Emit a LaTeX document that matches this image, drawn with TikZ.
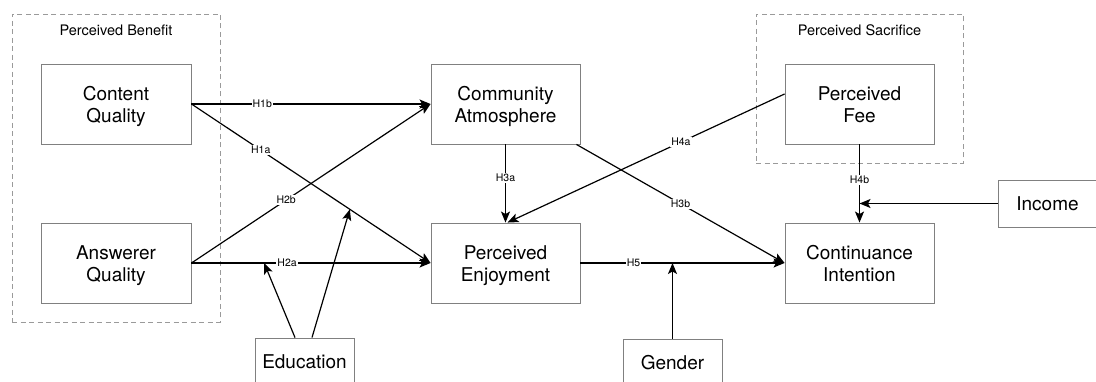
\documentclass[tikz,border=0pt]{standalone}
\usepackage{fontspec}
\setmainfont{TeX Gyre Heros}
\usetikzlibrary{arrows.meta,calc}
\definecolor{boxline}{HTML}{808080}
\definecolor{groupline}{HTML}{9A9A9A}
% fixed line metrics so two-line labels sit alike in every box
\newcommand{\firstline}{\rule{0pt}{20.4pt}}
\newcommand{\lastline}{\rule[-5pt]{0pt}{0pt}}
\tikzset{
  construct/.style={draw=boxline, line width=0.9pt, fill=white, align=center,
    minimum width=149pt, minimum height=80pt, inner sep=0pt,
    font=\fontsize{19}{22}\selectfont},
  control/.style={draw=boxline, line width=0.9pt, fill=white, align=center,
    minimum width=99pt, minimum height=48pt, inner sep=0pt,
    font=\fontsize{19}{22}\selectfont},
  groupbox/.style={draw=groupline, line width=0.9pt, dash pattern=on 5pt off 3.5pt,
    inner sep=0pt},
  grouptitle/.style={font=\fontsize{14.5}{16}\selectfont, inner sep=0pt},
  path/.style={draw, line width=1.2pt, -{Stealth[length=11pt,width=9pt,inset=2.5pt]}},
  hyp/.style={fill=white, inner sep=1pt, font=\fontsize{10.5}{12}\selectfont}
}
\begin{document}
\begin{tikzpicture}[x=1pt,y=-1pt]
\useasboundingbox (0,0) rectangle (1096,382);
\clip (0,0) rectangle (1096,382);

% construct groups
\node[groupbox, minimum width=208pt, minimum height=308pt] (benefit) at (116,168) {};
\node[grouptitle] (benefitT) at (116,30) {Perceived Benefit};
\node[groupbox, minimum width=207pt, minimum height=149pt] (sacrifice) at (859.5,88.5) {};
\node[grouptitle] (sacrificeT) at (859.5,30) {Perceived Sacrifice};

% constructs
\node[construct, minimum width=150pt] (cq) at (116,104) {\firstline Content\\Quality\lastline};
\node[construct, minimum width=150pt] (aq) at (116,263) {\firstline Answerer\\Quality\lastline};
\node[construct] (ca) at (505.5,104) {\firstline Community\\Atmosphere\lastline};
\node[construct] (pe) at (505.5,263) {\firstline Perceived\\Enjoyment\lastline};
\node[construct] (pf) at (859.5,104) {\firstline Perceived\\Fee\lastline};
\node[construct] (ci) at (859.5,263) {\firstline Continuance\\Intention\lastline};

% control variables
\node[control, minimum height=47pt] (inc) at (1047.5,203.5) {Income};
\node[control] (edu) at (304.5,362) {Education};
\node[control] (gen) at (672.5,363) {Gender};

% hypothesised paths
\draw[path] (cq.east) -- node[hyp, pos=0.296] {H1b} (ca.west);
\draw[path] (cq.east) -- node[hyp, pos=0.29] {H1a} (pe.west);
\draw[path] (aq.east) -- node[hyp, pos=0.396] {H2b} (ca.west);
\draw[path] (aq.east) -- node[hyp, pos=0.4] {H2a} (pe.west);
\draw[path] (ca.south) -- node[hyp, pos=0.43] {H3a} (pe.north);
\draw[path] ([xshift=-4pt]ca.south east) -- node[hyp, pos=0.5] {H3b} (ci.west);
\draw[path] ([yshift=10pt]pf.west) -- node[hyp, pos=0.374] {H4a} ([xshift=2pt]pe.north);
\draw[path] (pf.south) -- node[hyp, pos=0.456] {H4b} (ci.north);
\draw[path] (pe.east) -- node[hyp, pos=0.26] {H5} (ci.west);

% moderating effects
\coordinate (h2aMod) at ($(aq.east)!0.304!(pe.west)$);
\coordinate (h1aMod) at ($(cq.east)!0.6625!(pe.west)$);
\draw[path] ([xshift=-9.5pt]edu.north) -- (h2aMod);
\draw[path] ([xshift=7.5pt]edu.north) -- (h1aMod);
\draw[path] (gen.north) -- (gen.north |- pe.east);
\draw[path] (inc.west) -- (inc.west -| pf.south);
\end{tikzpicture}
\end{document}
